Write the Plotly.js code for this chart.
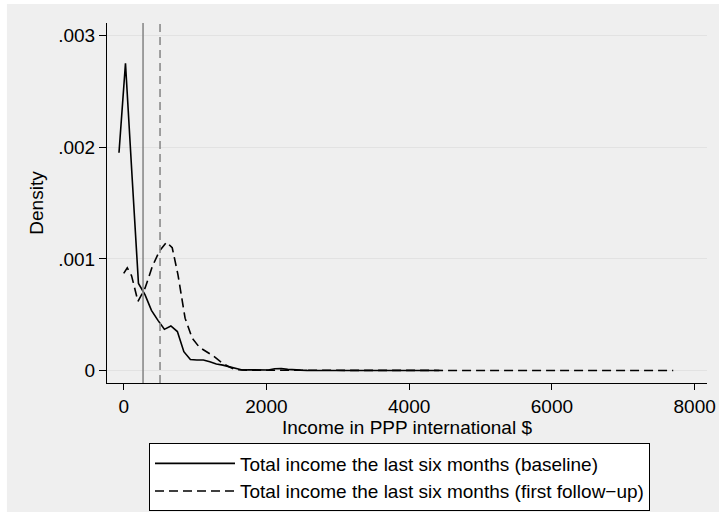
<!DOCTYPE html>
<html>
<head>
<meta charset="utf-8">
<script src="https://cdn.plot.ly/plotly-3.0.1.min.js"></script>
<style>
  html, body { margin: 0; padding: 0; background: #ffffff; }
  #chart { width: 719px; height: 512px; }
</style>
</head>
<body>
<div id="chart"></div>
<script>
// Kernel density, baseline income
const baselineX = [-66, 25, 116, 207, 298, 389, 480, 570, 661, 752,
  843, 934, 1025, 1116, 1207, 1298, 1389, 1480, 1570, 1661,
  1752, 1843, 1934, 2025, 2116, 2207, 2298, 2389, 2480, 2570,
  2661, 2752, 2843, 2934, 3025, 3116, 3207, 3298, 3389, 3480,
  3570, 3661, 3752, 3843, 3934, 4025, 4116, 4207, 4298, 4420];
const baselineY = [0.00195, 0.00275, 0.00175, 0.00078, 0.00068, 0.00054, 0.00045, 0.00037, 0.00040, 0.00035,
  0.00017, 0.00010, 0.000096, 0.000096, 0.00008, 0.00006, 0.00005, 0.000035, 0.000015, 0.000006,
  0.000008, 0.000008, 0.000006, 0.000006, 0.000018, 0.00002, 0.000012, 0.000006, 0.000005, 0.000003,
  0.000003, 0.000002, 0.000004, 0.000003, 0.000002, 0.000006, 0.000004, 0.000003, 0.000002, 0.000002,
  0.000003, 0.000002, 0.000002, 0.000002, 0.000002, 0.000003, 0.000002, 0.000002, 0.000002, 0.000002];

// Kernel density, first follow-up income
const followX = [0, 50, 110, 200, 300, 400, 500, 600, 680, 760,
  860, 960, 1060, 1160, 1260, 1360, 1460, 1560, 1660, 1760,
  2000, 2400, 2800, 3200, 3600, 4000, 4400, 4800, 5200, 5600,
  6000, 6400, 6800, 7200, 7700];
const followY = [0.00087, 0.00092, 0.00085, 0.00062, 0.00074, 0.00093, 0.00107, 0.00115, 0.00110, 0.00086,
  0.00047, 0.00029, 0.00021, 0.00017, 0.00013, 0.00008, 0.00004, 0.00001, 0.000005, 0.000004,
  0.000004, 0.000003, 0.000003, 0.000003, 0.000002, 0.000002, 0.000002, 0.000002, 0.000002, 0.000002,
  0.000002, 0.000002, 0.000002, 0.000002, 0.000002];

// Vertical reference lines (baseline, follow-up)
const refLines = [271, 509];
const refDash = ['solid', '8px,5px'];

const seriesNames = [
  'Total income the last six months (baseline)',
  'Total income the last six months (first follow\u2212up)'
];

const xTicks = [0, 2000, 4000, 6000, 8000];
const yTicks = [0, 0.001, 0.002, 0.003];
const yTickText = ['0', '.001', '.002', '.003'];

const font = { family: 'Liberation Sans, Arial, sans-serif', size: 19, color: '#000' };

const data = [
  {
    type: 'scatter', mode: 'lines',
    x: baselineX, y: baselineY,
    name: seriesNames[0],
    line: { color: '#000', width: 1.6 }
  },
  {
    type: 'scatter', mode: 'lines',
    x: followX, y: followY,
    name: seriesNames[1],
    line: { color: '#000', width: 1.6, dash: '9px,5px' }
  }
];

const shapes = [
  // grey page frame behind the plot
  {
    type: 'rect', xref: 'paper', yref: 'paper', layer: 'below',
    x0: -0.1668, x1: 1.2, y0: -0.5, y1: 1.0528,
    fillcolor: '#efefef', line: { width: 0 }
  }
].concat(refLines.map((v, i) => ({
  type: 'line', xref: 'x', yref: 'paper',
  x0: v, x1: v, y0: 0, y1: 1,
  line: { color: '#8a8a8a', width: 1.6, dash: refDash[i] }
})));

const layout = {
  width: 719,
  height: 512,
  margin: { l: 107, r: 12, t: 23, b: 129, autoexpand: false },
  paper_bgcolor: '#ffffff',
  plot_bgcolor: '#ffffff',
  font: font,
  showlegend: true,
  xaxis: {
    range: [-234, 8173],
    tickvals: xTicks,
    ticks: 'outside', ticklen: 6, tickcolor: '#000', tickwidth: 1,
    showline: true, linecolor: '#000', linewidth: 1,
    showgrid: false, zeroline: false,
    tickfont: font,
    title: { text: 'Income in PPP international $', font: font, standoff: 2 }
  },
  yaxis: {
    range: [-0.00011, 0.00311],
    tickvals: yTicks,
    ticktext: yTickText,
    ticks: 'outside', ticklen: 7, tickcolor: '#000', tickwidth: 1,
    showline: true, linecolor: '#000', linewidth: 1,
    showgrid: true, gridcolor: '#e2e2e2', gridwidth: 1,
    zeroline: false,
    tickfont: font,
    title: { text: 'Density', font: font, standoff: 9 }
  },
  legend: {
    x: 0.07, y: -0.168, xanchor: 'left', yanchor: 'top',
    bgcolor: '#ffffff', bordercolor: '#000', borderwidth: 1,
    font: font,
    itemwidth: 80,
    traceorder: 'normal'
  },
  shapes: shapes
};

Plotly.newPlot('chart', data, layout, { displayModeBar: false, staticPlot: true });
</script>
</body>
</html>
